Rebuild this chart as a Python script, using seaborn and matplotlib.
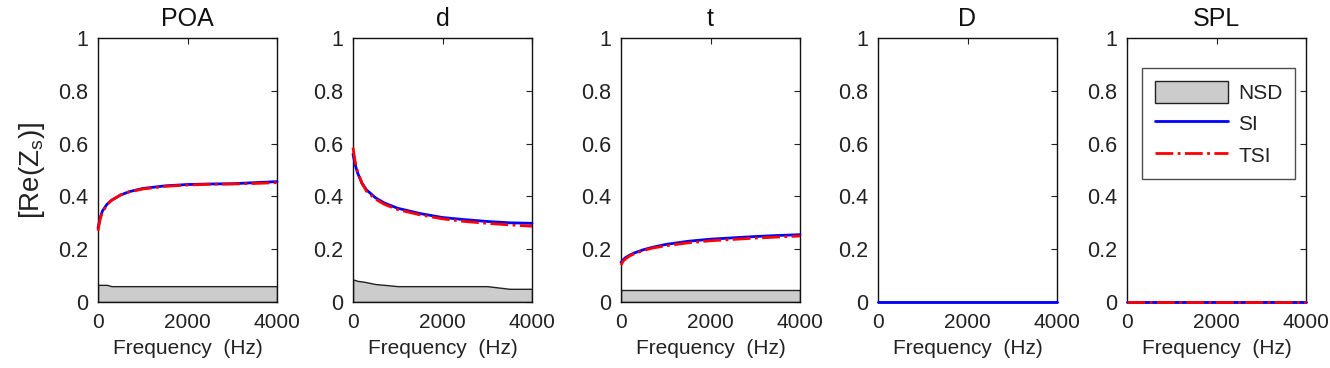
import numpy as np
import pandas as pd
import matplotlib
matplotlib.use("Agg")
import matplotlib.pyplot as plt
import seaborn as sns

titles = ["POA", "d", "t", "D", "SPL"]
freq = [0, 50, 100, 200, 300, 500, 700, 1000, 1500, 2000, 2500, 3000, 3500, 4000]

si_poa = [0.28, 0.32, 0.345, 0.37, 0.385, 0.405, 0.418, 0.43, 0.44, 0.445, 0.447, 0.448, 0.452, 0.456]
tsi_poa = [0.27, 0.315, 0.34, 0.368, 0.385, 0.405, 0.417, 0.428, 0.438, 0.443, 0.446, 0.447, 0.449, 0.452]
nsd_poa = [0.065, 0.065, 0.065, 0.065, 0.06, 0.06, 0.06, 0.06, 0.06, 0.06, 0.06, 0.06, 0.06, 0.06]

si_d = [0.56, 0.52, 0.49, 0.45, 0.425, 0.395, 0.375, 0.355, 0.335, 0.32, 0.312, 0.305, 0.30, 0.298]
tsi_d = [0.585, 0.53, 0.495, 0.45, 0.42, 0.39, 0.37, 0.35, 0.33, 0.315, 0.305, 0.298, 0.292, 0.287]
nsd_d = [0.085, 0.083, 0.08, 0.078, 0.075, 0.068, 0.065, 0.06, 0.06, 0.06, 0.06, 0.06, 0.05, 0.05]

si_t = [0.15, 0.16, 0.168, 0.178, 0.186, 0.198, 0.207, 0.218, 0.23, 0.238, 0.243, 0.248, 0.252, 0.255]
tsi_t = [0.14, 0.155, 0.163, 0.175, 0.183, 0.195, 0.204, 0.213, 0.224, 0.232, 0.237, 0.242, 0.246, 0.25]
nsd_t = [0.045] * 14

si_D = [0.0] * 14
tsi_D = None  # not visible in this panel
nsd_D = [0.0] * 14

si_SPL = [0.0] * 14
tsi_SPL = [0.0] * 14
nsd_SPL = [0.0] * 14

si_all = [si_poa, si_d, si_t, si_D, si_SPL]
tsi_all = [tsi_poa, tsi_d, tsi_t, tsi_D, tsi_SPL]
nsd_all = [nsd_poa, nsd_d, nsd_t, nsd_D, nsd_SPL]

sns.set_theme(style="white")
plt.rcParams['font.family'] = ['Liberation Sans', 'DejaVu Sans']
plt.rcParams['mathtext.fontset'] = 'custom'
plt.rcParams['mathtext.rm'] = 'Liberation Sans'
plt.rcParams['mathtext.it'] = 'Liberation Sans'

fig = plt.figure(figsize=(13.3, 3.68), dpi=100)
W, H = 1330, 368
lefts = [98, 353, 621, 878, 1127]
aw, top, bot = 179, 38, 302
txt = '#222222'

for i, name in enumerate(titles):
    ax = fig.add_axes([lefts[i] / W, 1 - bot / H, aw / W, (bot - top) / H])
    ax.fill_between(freq, 0, nsd_all[i], facecolor='#cccccc', edgecolor='#222222',
                    linewidth=1.0, label='NSD', zorder=1)
    sdf = pd.DataFrame({"f": freq, "v": si_all[i]})
    sns.lineplot(data=sdf, x="f", y="v", color='#0000ff', linewidth=2.0,
                 ax=ax, label='SI', zorder=3, clip_on=False)
    if tsi_all[i] is not None:
        tdf = pd.DataFrame({"f": freq, "v": tsi_all[i]})
        sns.lineplot(data=tdf, x="f", y="v", color='#ff0000', linewidth=2.0,
                     linestyle='-.', ax=ax, label='TSI', zorder=4, clip_on=False)
    else:
        ax.plot([], [], color='#ff0000', linewidth=2.0, linestyle='-.', label='TSI')
    ax.set_xlim(0, 4000)
    ax.set_ylim(0, 1)
    ax.set_xticks([0, 2000, 4000])
    ax.set_yticks([0, 0.2, 0.4, 0.6, 0.8, 1])
    ax.set_yticklabels(["0", "0.2", "0.4", "0.6", "0.8", "1"])
    ax.tick_params(direction='in', top=True, right=True, length=4,
                   width=0.8, color='#222222', labelcolor=txt)
    ax.tick_params(axis='x', labelsize=15, pad=8)
    ax.tick_params(axis='y', labelsize=15.5, pad=7)
    for sp in ax.spines.values():
        sp.set_color('#111111')
        sp.set_linewidth(1.0)
        sp.set_zorder(2)
    ax.set_title(name, fontsize=18, pad=9, color='#111111')
    ax.set_xlabel("Frequency  (Hz)", fontsize=15, labelpad=5, color=txt)
    if i == 0:
        ax.set_ylabel("[Re(Z$_\\mathregular{s}$)]", fontsize=20, labelpad=8, color=txt)
    else:
        ax.set_ylabel("")
    if i == 4:
        leg = ax.legend(loc='upper right',
                        bbox_to_anchor=((1295 - lefts[4]) / aw, (bot - 68) / (bot - top)),
                        borderaxespad=0, fontsize=15, handlelength=3.5, handleheight=1.3,
                        handletextpad=0.5, frameon=True, fancybox=False,
                        edgecolor='#222222', borderpad=0.6, labelspacing=0.42)
        leg.get_frame().set_linewidth(1.0)
        for t in leg.get_texts():
            t.set_color(txt)
    else:
        lg = ax.get_legend()
        if lg is not None:
            lg.remove()

fig.savefig("out.png", dpi=100)
